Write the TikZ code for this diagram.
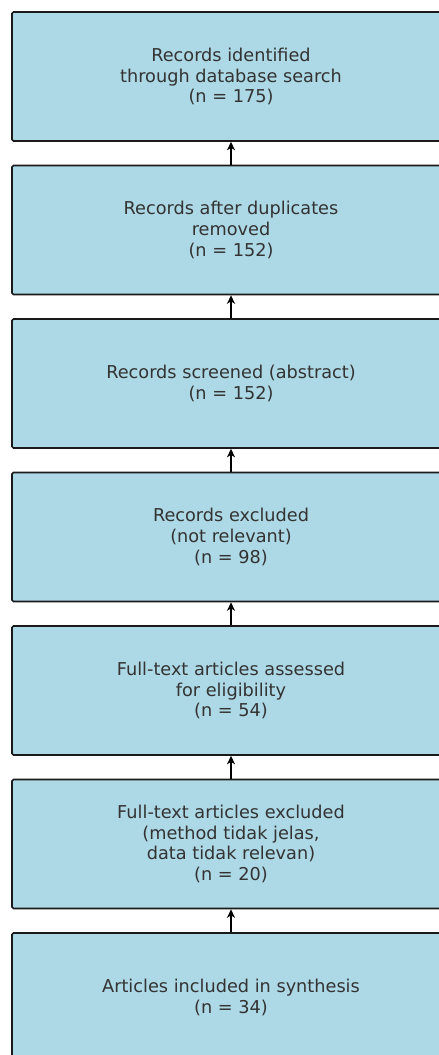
\documentclass[tikz,border=0pt]{standalone}
\usepackage{fontspec}
\setmainfont{DejaVu Sans}
\usetikzlibrary{arrows.meta}
\definecolor{boxfill}{HTML}{ADD8E6}
\definecolor{boxline}{HTML}{1A1A1A}
\definecolor{txt}{HTML}{333333}
\tikzset{
  stagebox/.style={draw=boxline, line width=1.6pt, fill=boxfill, rounded corners=1.5pt,
    minimum width=438pt, minimum height=129pt, inner sep=0pt, align=center,
    text=txt, font=\fontsize{17.7}{20.8}\selectfont},
  uparrow/.style={-{Stealth[length=8.5pt,width=8pt,inset=2.5pt]}, line width=1.6pt, draw=black}
}
\begin{document}
\begin{tikzpicture}[x=1pt,y=-1pt]
\useasboundingbox (0,0) rectangle (439,1055);
\clip (0,0) rectangle (439,1055);
\node[stagebox] (b1) at (231,76.5) {Records identified\\through database search\\(n = 175)};
\node[stagebox] (b2) at (231,230) {Records after duplicates\\removed\\(n = 152)};
\node[stagebox] (b3) at (231,383.5) {Records screened (abstract)\\(n = 152)};
\node[stagebox] (b4) at (231,537) {Records excluded\\(not relevant)\\(n = 98)};
\node[stagebox] (b5) at (231,690.5) {Full-text articles assessed\\for eligibility\\(n = 54)};
\node[stagebox] (b6) at (231,844) {Full-text articles excluded\\(method tidak jelas,\\data tidak relevan)\\(n = 20)};
\node[stagebox] (b7) at (231,997.5) {Articles included in synthesis\\(n = 34)};
\draw[uparrow] (b2.north) -- (b1.south);
\draw[uparrow] (b3.north) -- (b2.south);
\draw[uparrow] (b4.north) -- (b3.south);
\draw[uparrow] (b5.north) -- (b4.south);
\draw[uparrow] (b6.north) -- (b5.south);
\draw[uparrow] (b7.north) -- (b6.south);
\end{tikzpicture}
\end{document}
